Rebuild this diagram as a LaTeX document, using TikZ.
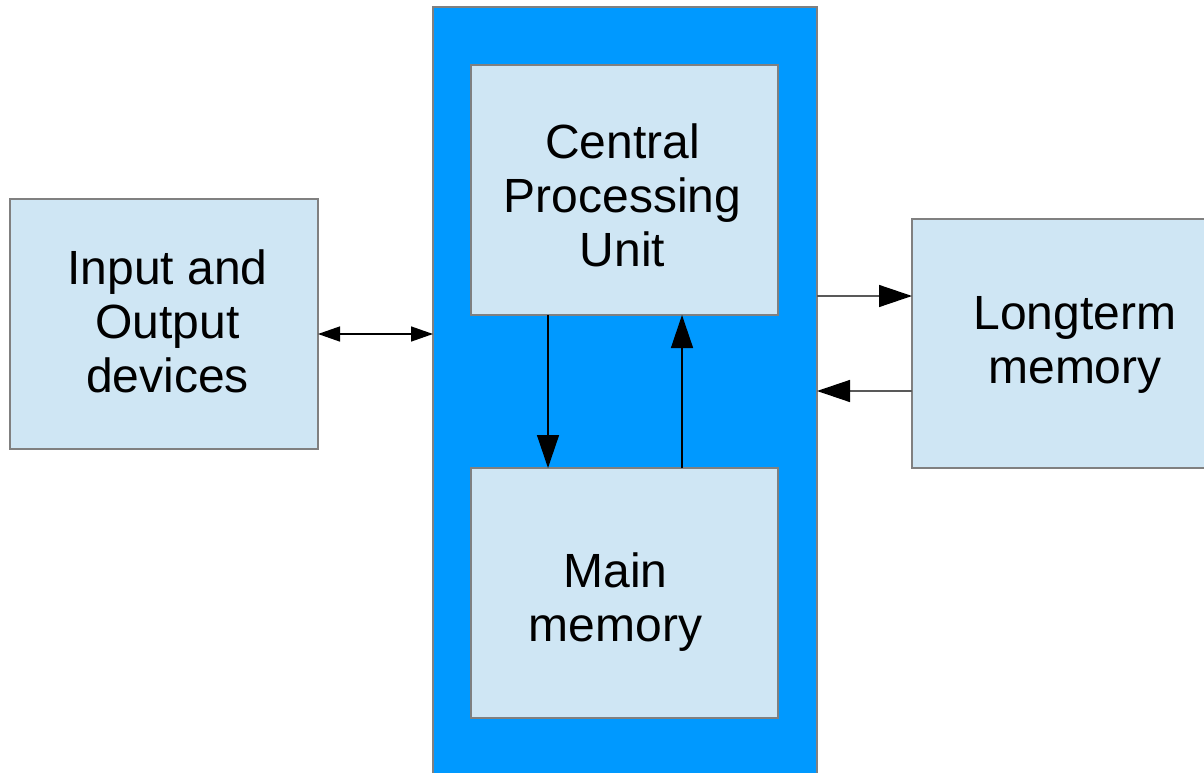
\documentclass[tikz,border=0pt]{standalone}
\usepackage{fontspec}
\setmainfont{Liberation Sans}
\usetikzlibrary{arrows.meta}
\definecolor{cpublue}{HTML}{0099FF}
\definecolor{boxfill}{HTML}{CFE6F4}
\definecolor{boxline}{HTML}{808080}
\begin{document}
\begin{tikzpicture}[x=1pt,y=-1pt,
  blockbox/.style={draw=boxline,line width=1.2pt,fill=boxfill,inner sep=0pt,outer sep=0pt},
  blocktext/.style={inner sep=0pt,align=center,font=\fontsize{48}{54}\selectfont},
  bigtip/.style={-{Triangle[length=33pt,width=22pt,color=black]}},
  smalltip/.style={{Triangle[length=22pt,width=15pt]}-{Triangle[length=22pt,width=15pt]}},
  conn/.style={line width=1.4pt}]
\useasboundingbox (0,0) rectangle (1204,773);
\fill[white] (0,0) rectangle (1204,773);
% outer blue panel
\path[draw=boxline,line width=1.2pt,fill=cpublue] (433,7) rectangle (817,790);
\coordinate (panelL) at (433,334);
\coordinate (panelRtop) at (817,296);
\coordinate (panelRbot) at (817,391);
% boxes
\node[blockbox,minimum width=307pt,minimum height=250pt] (cpu) at (624.5,190) {};
\node[blocktext] (cputext) at (622.5,195) {Central\\Processing\\Unit};
\node[blockbox,minimum width=307pt,minimum height=250pt] (mem) at (624.5,593) {};
\node[blocktext] (memtext) at (615.5,602) {Main\\memory};
\node[blockbox,minimum width=308pt,minimum height=250pt] (io) at (164,324) {};
\node[blocktext] (iotext) at (167.5,321) {Input and\\Output\\devices};
\path[draw=boxline,line width=1.2pt,fill=boxfill] (1220,219) -- (912,219) -- (912,468) -- (1220,468);
\node[blocktext] (lt) at (1075,345) {Longterm\\memory};
\coordinate (ltTop) at (912,296);
\coordinate (ltBot) at (912,391);
% connectors
\draw[conn,smalltip] (io.east |- panelL) -- (panelL);
\draw[conn,bigtip,draw=black!65] (panelRtop) -- (ltTop);
\draw[conn,bigtip,draw=black!65] (ltBot) -- (panelRbot);
\draw[conn,bigtip] ([xshift=-76.5pt]cpu.south) -- ([xshift=-76.5pt]mem.north);
\draw[conn,bigtip] ([xshift=57.5pt]mem.north) -- ([xshift=57.5pt]cpu.south);
\end{tikzpicture}
\end{document}
